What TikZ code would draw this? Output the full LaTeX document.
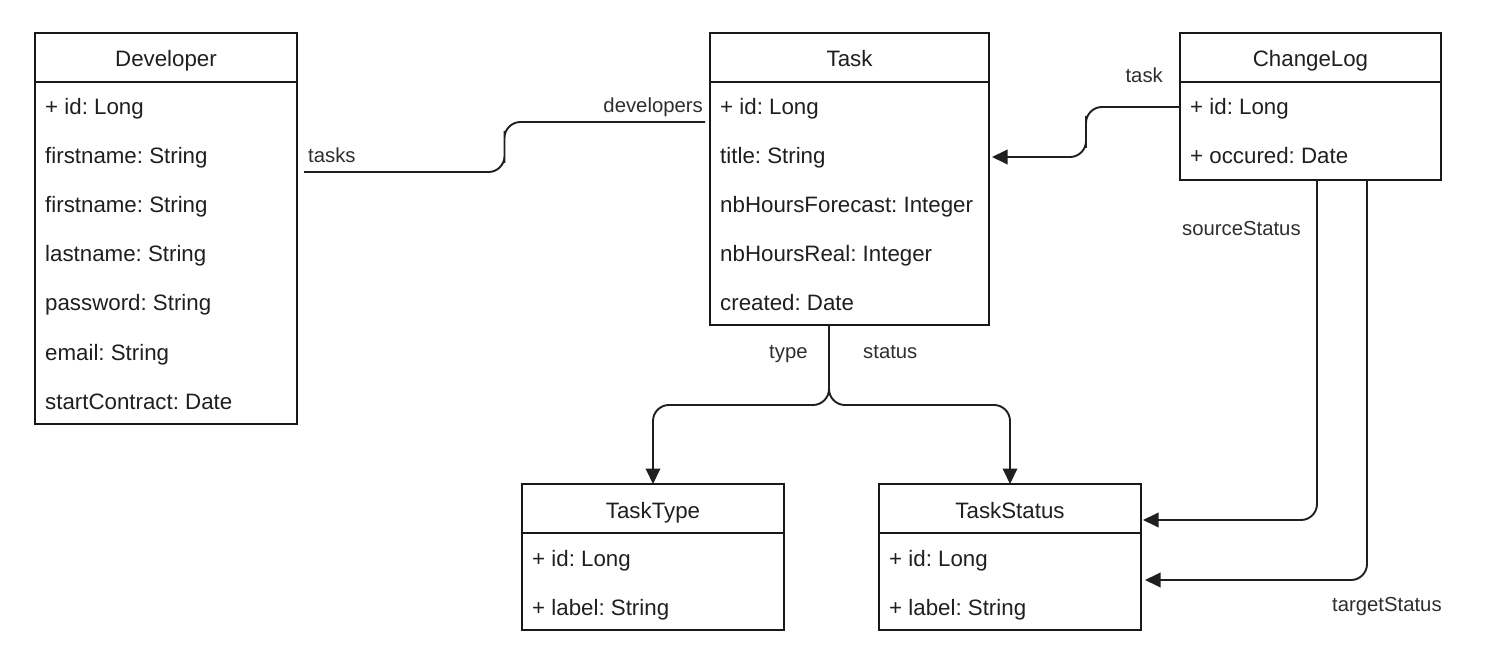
\documentclass[tikz,border=0pt]{standalone}
\usepackage{fontspec}
\setmainfont{Liberation Sans}
\usetikzlibrary{arrows.meta,calc}
\frenchspacing

\tikzset{
  classbox/.style={draw=black!90, line width=1.4pt, anchor=north west, inner sep=0pt, outer sep=0pt},
  classsep/.style={draw=black!90, line width=1.4pt},
  classname/.style={anchor=base, inner sep=0pt, text=black!88, font=\fontsize{22.3}{26}\selectfont},
  attr/.style={anchor=base west, inner sep=0pt, text=black!88, font=\fontsize{22.3}{26}\selectfont},
  role/.style={anchor=base west, inner sep=0pt, text=black!82, font=\fontsize{20.3}{24}\selectfont},
  assoc/.style={draw=black!88, line width=1.9pt, rounded corners=16},
  navig/.style={assoc, -{Triangle[length=15.5pt,width=14.5pt]}}
}

\begin{document}
\begin{tikzpicture}[x=1pt,y=-1pt]
  \useasboundingbox (0,0) rectangle (1486,668);

  % Developer
  \node[classbox, minimum width=262, minimum height=391] (dev) at (35,33) {};
  \draw[classsep] ([yshift=-49pt]dev.north west) -- ([yshift=-49pt]dev.north east);
  \node[classname] (devName) at (166,67) {Developer};
  \node[attr] (dev1) at (45,115) {+ id: Long};
  \node[attr] (dev2) at (45,164) {firstname: String};
  \node[attr] (dev3) at (45,213) {firstname: String};
  \node[attr] (dev4) at (45,262) {lastname: String};
  \node[attr] (dev5) at (45,311) {password: String};
  \node[attr] (dev6) at (45,360) {email: String};
  \node[attr] (dev7) at (45,409) {startContract: Date};

  % Task
  \node[classbox, minimum width=279, minimum height=292] (task) at (710,33) {};
  \draw[classsep] ([yshift=-49pt]task.north west) -- ([yshift=-49pt]task.north east);
  \node[classname] (taskName) at (849.5,67) {Task};
  \node[attr] (task1) at (720,115) {+ id: Long};
  \node[attr] (task2) at (720,164) {title: String};
  \node[attr] (task3) at (720,213) {nbHoursForecast: Integer};
  \node[attr] (task4) at (720,262) {nbHoursReal: Integer};
  \node[attr] (task5) at (720,311) {created: Date};

  % ChangeLog
  \node[classbox, minimum width=261, minimum height=147] (log) at (1180,33) {};
  \draw[classsep] ([yshift=-49pt]log.north west) -- ([yshift=-49pt]log.north east);
  \node[classname] (logName) at (1310.5,67) {ChangeLog};
  \node[attr] (log1) at (1190,115) {+ id: Long};
  \node[attr] (log2) at (1190,164) {+ occured: Date};

  % TaskType
  \node[classbox, minimum width=262, minimum height=146] (type) at (522,484) {};
  \draw[classsep] ([yshift=-49pt]type.north west) -- ([yshift=-49pt]type.north east);
  \node[classname] (typeName) at (653,518) {TaskType};
  \node[attr] (type1) at (532,566) {+ id: Long};
  \node[attr] (type2) at (532,615) {+ label: String};

  % TaskStatus
  \node[classbox, minimum width=262, minimum height=146] (status) at (879,484) {};
  \draw[classsep] ([yshift=-49pt]status.north west) -- ([yshift=-49pt]status.north east);
  \node[classname] (statusName) at (1010,518) {TaskStatus};
  \node[attr] (status1) at (889,566) {+ id: Long};
  \node[attr] (status2) at (889,615) {+ label: String};

  % developers / tasks
  \coordinate (devTasks) at (304,172);
  \coordinate (taskDevs) at (705,122);
  \draw[assoc] (devTasks) -| ($(devTasks)!.5!(taskDevs)$) |- (taskDevs);
  \node[role] (tasksLbl) at (308,163) {tasks};
  \node[role, anchor=base east] (devsLbl) at (703,113) {developers};

  % ChangeLog -> Task
  \coordinate (logTask) at (1180,107);
  \coordinate (taskLog) at (992,157);
  \draw[navig] (logTask) -| ($(logTask)!.5!(taskLog)$) |- (taskLog);
  \node[role, anchor=base east] (taskLbl) at (1163,83) {task};

  % Task -> TaskType, TaskStatus
  \coordinate (taskOut) at (829,325);
  \coordinate (fork) at (829,405);
  \draw[navig] (taskOut) -- (fork) -| (type.north);
  \draw[navig] (taskOut) -- (fork) -| (status.north);
  \node[role] (typeLbl) at (769,358) {type};
  \node[role] (statusLbl) at (863,358) {status};

  % ChangeLog -> TaskStatus
  \coordinate (logSrc) at (1317,180);
  \coordinate (statusSrc) at (1143,520);
  \draw[navig] (logSrc) |- (statusSrc);
  \node[role] (srcLbl) at (1182,236) {sourceStatus};
  \coordinate (logTgt) at (1367,180);
  \coordinate (statusTgt) at (1145,580);
  \draw[navig] (logTgt) |- (statusTgt);
  \node[role] (tgtLbl) at (1332,611) {targetStatus};
\end{tikzpicture}
\end{document}
